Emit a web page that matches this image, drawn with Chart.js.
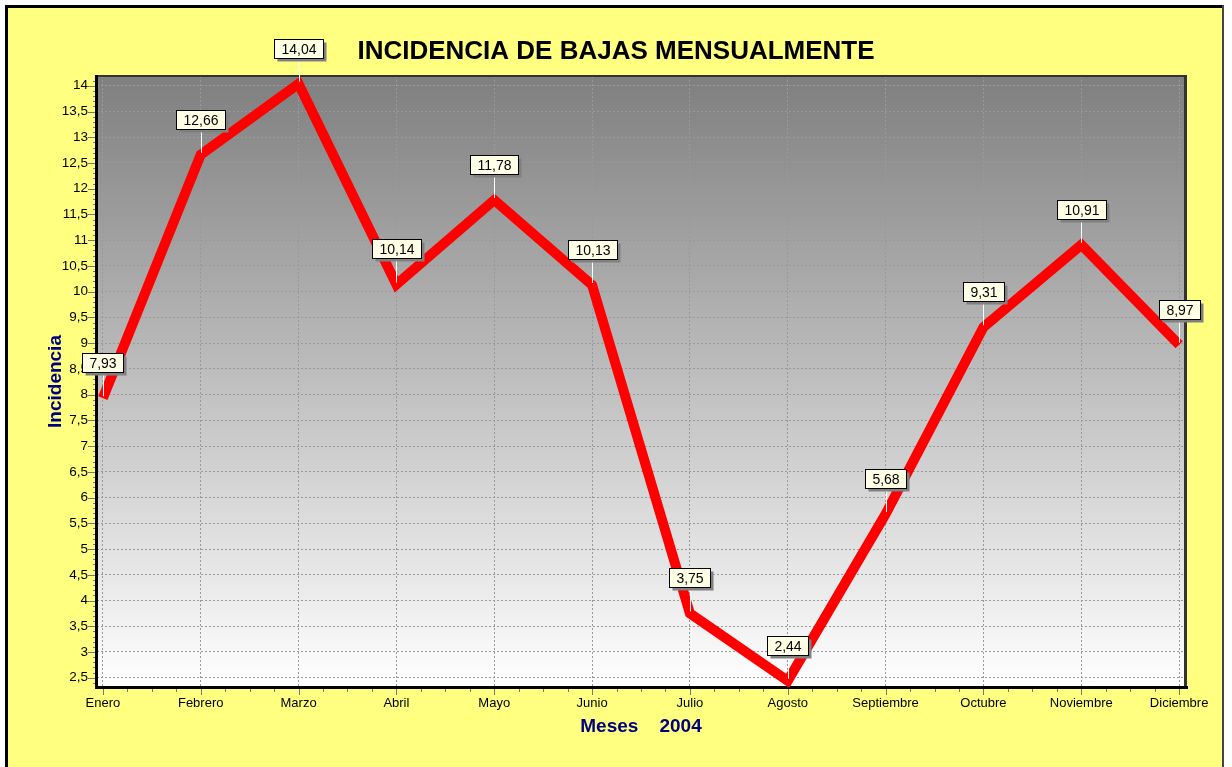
<!DOCTYPE html>
<html>
<head>
<meta charset="utf-8">
<script src="https://cdn.jsdelivr.net/npm/chart.js@4/dist/chart.umd.min.js"></script>
<style>
  html, body { margin: 0; padding: 0; background: #fff; }
  canvas { display: block; }
</style>
</head>
<body>
<canvas id="chart" width="1232" height="767"></canvas>
<script>
var months = ['Enero', 'Febrero', 'Marzo', 'Abril', 'Mayo', 'Junio', 'Julio', 'Agosto', 'Septiembre', 'Octubre', 'Noviembre', 'Diciembre'];
var incidencia = [7.93, 12.66, 14.04, 10.14, 11.78, 10.13, 3.75, 2.44, 5.68, 9.31, 10.91, 8.97];
var yTicks = [2.5, 3, 3.5, 4, 4.5, 5, 5.5, 6, 6.5, 7, 7.5, 8, 8.5, 9, 9.5, 10, 10.5, 11, 11.5, 12, 12.5, 13, 13.5, 14];

var fam = '"Liberation Sans", Arial, sans-serif';

function coma(v) {
    return String(v).replace('.', ',');
}

var marco = {
    id: 'marco',
    beforeDraw: function(chart) {
        var ctx = chart.ctx, a = chart.chartArea;
        ctx.save();
        ctx.fillStyle = '#ffffff';
        ctx.fillRect(0, 0, chart.width, chart.height);
        ctx.fillStyle = '#ffff80';
        ctx.fillRect(5, 5, 1219, 762);
        ctx.fillStyle = '#000';
        ctx.fillRect(5, 5, 1219, 3);
        ctx.fillRect(5, 5, 3, 762);
        ctx.fillStyle = '#444';
        ctx.fillRect(1222, 5, 2, 762);
        var g = ctx.createLinearGradient(0, a.top, 0, a.bottom);
        g.addColorStop(0, '#7f7f7f');
        g.addColorStop(1, '#ffffff');
        ctx.fillStyle = g;
        ctx.fillRect(a.left, a.top, a.right - a.left, a.bottom - a.top);
        ctx.restore();
    },
    beforeDatasetsDraw: function(chart) {
        var ctx = chart.ctx, a = chart.chartArea, x = chart.scales.x, y = chart.scales.y;
        ctx.save();
        // marcas menores y mayores
        ctx.strokeStyle = '#777';
        ctx.lineWidth = 1;
        ctx.beginPath();
        for (var k = Math.ceil(y.min * 10); k <= Math.floor(y.max * 10); k++) {
            var py = Math.round(y.getPixelForValue(k / 10)) + 0.5;
            var len = k % 5 === 0 ? 9 : 4;
            ctx.moveTo(a.left - len, py);
            ctx.lineTo(a.left, py);
        }
        for (var q = 0; q <= (months.length - 1) * 4; q++) {
            var px = Math.round(x.getPixelForValue(q / 4)) + 0.5;
            var l2 = q % 4 === 0 ? 8 : 5;
            ctx.moveTo(px, a.bottom);
            ctx.lineTo(px, a.bottom + l2);
        }
        ctx.stroke();
        // marco del area
        ctx.fillStyle = '#333';
        ctx.fillRect(a.left, a.top - 1, a.right - a.left, 2);
        ctx.fillRect(a.right - 1, a.top - 1, 3, a.bottom - a.top + 1);
        ctx.fillStyle = '#000';
        ctx.fillRect(a.left - 2, a.top - 1, 3, a.bottom - a.top + 3);
        ctx.fillRect(a.left - 2, a.bottom - 1, a.right - a.left + 5, 3);
        ctx.restore();
    },
    afterDatasetsDraw: function(chart) {
        var ctx = chart.ctx, pts = chart.getDatasetMeta(0).data;
        ctx.save();
        ctx.font = '14px ' + fam;
        ctx.textAlign = 'center';
        ctx.textBaseline = 'middle';
        pts.forEach(function(p, i) {
            var txt = incidencia[i].toFixed(2).replace('.', ',');
            var w = Math.round(ctx.measureText(txt).width) + 14, h = 19;
            var cx = Math.round(p.x) + 0.5;
            var bx = Math.round(p.x - w / 2) + 0.5;
            var by = Math.round(p.y) - 26 - h + 0.5;
            ctx.strokeStyle = '#fff';
            ctx.lineWidth = 1;
            ctx.beginPath();
            ctx.moveTo(cx, by + h);
            ctx.lineTo(cx, p.y - 2);
            ctx.stroke();
            ctx.fillStyle = '#808080';
            ctx.fillRect(bx + 3, by + 3, w, h);
            ctx.fillStyle = '#ffffe6';
            ctx.fillRect(bx, by, w, h);
            ctx.strokeStyle = '#000';
            ctx.strokeRect(bx, by, w, h);
            ctx.fillStyle = '#000';
            ctx.fillText(txt, bx + w / 2, by + h / 2 + 1);
        });
        ctx.restore();
    }
};

new Chart(document.getElementById('chart'), {
    type: 'line',
    data: {
        datasets: [{
            label: 'Incidencia',
            data: incidencia.map(function(v, i) { return { x: i, y: v }; }),
            borderColor: '#ff0000',
            borderWidth: 10,
            pointRadius: 0,
            pointHoverRadius: 0,
            tension: 0,
            fill: false,
            borderJoinStyle: 'miter',
            borderCapStyle: 'butt'
        }]
    },
    plugins: [marco],
    options: {
        responsive: false,
        animation: false,
        events: [],
        layout: { padding: 0 },
        plugins: {
            legend: { display: false },
            tooltip: { enabled: false },
            title: {
                display: true,
                text: 'INCIDENCIA DE BAJAS MENSUALMENTE',
                color: '#000',
                font: { family: fam, size: 26, weight: 'bold', lineHeight: 1.2 },
                padding: { top: 36.4, bottom: 8.4 }
            }
        },
        scales: {
            x: {
                type: 'linear',
                min: -0.06,
                max: 11.06,
                afterBuildTicks: function(s) {
                    s.ticks = months.map(function(m, i) { return { value: i }; });
                },
                afterFit: function(s) { s.height = 80; },
                grid: { color: '#999', drawTicks: false, lineWidth: 1 },
                border: { display: false, dash: [2, 2] },
                ticks: {
                    autoSkip: false,
                    maxRotation: 0,
                    padding: 9,
                    color: '#000',
                    font: { family: fam, size: 13 },
                    callback: function(v) { return months[v]; }
                },
                title: {
                    display: true,
                    text: 'Meses    2004',
                    color: '#000080',
                    font: { family: fam, size: 19, weight: 'bold', lineHeight: 1.2 },
                    padding: { top: 0, bottom: 28.6 }
                }
            },
            y: {
                min: 2.32,
                max: 14.19,
                afterBuildTicks: function(s) {
                    s.ticks = yTicks.map(function(v) { return { value: v }; });
                },
                afterFit: function(s) { s.width = 97; },
                grid: { color: '#999', drawTicks: false, lineWidth: 1 },
                border: { display: false, dash: [2, 2] },
                ticks: {
                    padding: 9,
                    color: '#000',
                    font: { family: fam, size: 13.5 },
                    callback: function(v) { return coma(v); }
                },
                title: {
                    display: true,
                    text: 'Incidencia',
                    color: '#000080',
                    font: { family: fam, size: 19, weight: 'bold', lineHeight: 1.2 },
                    padding: { top: 44, bottom: 0 }
                }
            },
            y2: {
                position: 'right',
                display: true,
                grid: { display: false },
                border: { display: false },
                ticks: { display: false },
                afterFit: function(s) { s.width = 47; }
            }
        }
    }
});
</script>
</body>
</html>
